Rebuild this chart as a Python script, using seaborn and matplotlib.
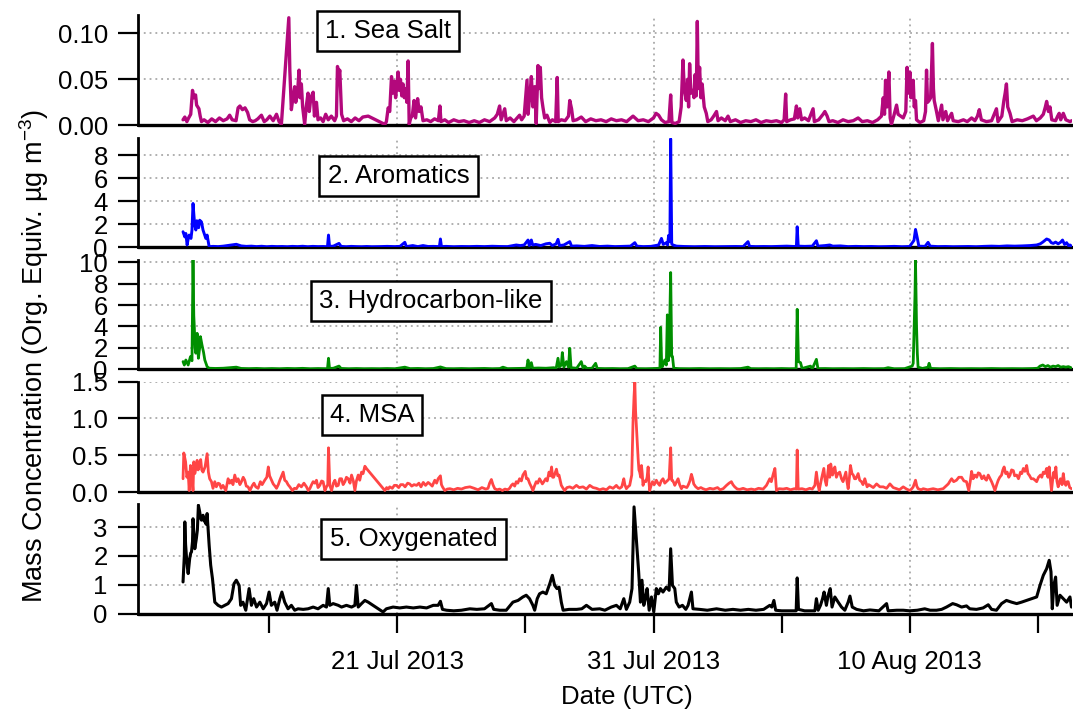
import numpy as np
import pandas as pd
import matplotlib
matplotlib.use("Agg")
import matplotlib.pyplot as plt
from matplotlib.ticker import FixedLocator, FixedFormatter
import matplotlib.dates as mdates
import seaborn as sns

# ---------------- data (time = day of July 2013, fractional; Aug d -> 31 + d) ----------------
sea_salt = [
    (12.63, .006), (12.70, .009), (12.78, .004), (12.85, .008), (12.93, .012), (13.00, .038), (13.05, .030),
    (13.12, .033), (13.16, .022), (13.25, .018), (13.30, .010), (13.35, .004), (13.45, .006), (13.60, .003),
    (13.75, .007), (13.90, .004), (14.05, .008), (14.20, .005), (14.35, .007), (14.45, .011), (14.55, .006),
    (14.70, .005), (14.78, .019), (14.85, .021), (14.95, .017), (15.05, .019), (15.15, .014), (15.23, .006),
    (15.35, .004), (15.45, .005), (15.55, .007), (15.69, .011), (15.80, .004), (15.90, .006), (16.02, .010),
    (16.15, .005), (16.28, .012), (16.38, .004), (16.47, .001), (16.76, .117), (16.80, .060), (16.86, .017),
    (16.92, .030), (16.99, .042), (17.03, .025), (17.10, .035), (17.16, .060), (17.20, .030), (17.25, .045),
    (17.30, .020), (17.38, .001), (17.44, .020), (17.51, .035), (17.56, .015), (17.62, .030), (17.71, .036),
    (17.76, .010), (17.84, .025), (17.90, .006), (18.00, .008), (18.10, .004), (18.20, .012), (18.30, .006),
    (18.42, .010), (18.55, .005), (18.62, .010), (18.66, .064), (18.72, .055), (18.75, .060), (18.82, .012),
    (18.90, .005), (19.05, .007), (19.20, .004), (19.35, .008), (19.50, .005), (19.65, .009), (19.86, .010),
    (20.51, .001), (20.57, .004), (20.64, .019), (20.70, .015), (20.77, .053), (20.82, .035), (20.88, .048),
    (20.93, .030), (21.03, .058), (21.07, .038), (21.12, .050), (21.17, .032), (21.22, .045), (21.27, .030),
    (21.32, .040), (21.37, .025), (21.42, .070), (21.46, .001), (21.52, .008), (21.58, .010), (21.65, .027),
    (21.71, .008), (21.79, .029), (21.85, .015), (21.92, .020), (22.00, .005), (22.15, .006), (22.30, .004),
    (22.45, .007), (22.60, .005), (22.66, .021), (22.70, .004), (22.85, .006), (23.00, .003), (23.20, .006),
    (23.40, .004), (23.60, .005), (23.80, .003),
    (24.00, .005), (24.20, .003), (24.40, .006), (24.60, .004), (24.80, .008), (24.90, .012), (24.99, .021),
    (25.05, .006), (25.19, .018), (25.25, .005), (25.40, .008), (25.55, .004), (25.77, .011), (25.85, .006),
    (25.95, .010), (26.06, .049), (26.10, .012), (26.18, .035), (26.23, .053), (26.29, .020), (26.36, .042),
    (26.42, .002), (26.49, .065), (26.53, .040), (26.58, .063), (26.63, .030), (26.68, .020), (26.75, .008),
    (26.84, .011), (26.95, .003), (27.05, .006), (27.18, .004), (27.24, .052), (27.28, .004), (27.40, .006),
    (27.55, .005), (27.68, .010), (27.73, .027), (27.80, .018), (27.86, .005), (28.00, .006), (28.18, .009),
    (28.35, .004), (28.55, .007), (28.75, .005), (28.95, .006), (29.15, .004), (29.35, .007), (29.55, .005),
    (29.75, .006), (29.95, .004), (30.20, .010), (30.40, .005), (30.60, .006), (30.80, .004), (31.00, .008),
    (31.10, .013), (31.20, .011), (31.31, .006), (31.45, .003), (31.60, .004), (31.67, .033), (31.72, .003),
    (31.85, .002), (32.00, .004), (32.08, .020), (32.15, .071), (32.20, .040), (32.28, .027), (32.33, .050),
    (32.37, .020), (32.41, .067), (32.46, .035), (32.54, .038), (32.58, .030), (32.62, .055), (32.67, .032),
    (32.71, .113), (32.75, .040), (32.80, .063), (32.85, .030), (32.90, .045), (32.93, .035), (32.98, .020),
    (33.06, .013), (33.12, .004), (33.25, .006), (33.35, .010), (33.46, .015), (33.52, .005), (33.65, .008),
    (33.80, .005), (33.91, .010), (34.00, .004), (34.20, .006), (34.40, .003), (34.60, .005), (34.80, .004),
    (35.00, .006), (35.20, .003), (35.40, .005),
    (35.60, .004), (35.80, .005), (36.00, .003), (36.10, .006), (36.16, .034), (36.20, .004), (36.35, .006),
    (36.50, .007), (36.58, .021), (36.63, .008), (36.71, .018), (36.78, .006), (36.90, .008), (37.05, .005),
    (37.23, .018), (37.28, .004), (37.45, .006), (37.62, .012), (37.69, .015), (37.78, .010), (37.85, .004),
    (38.00, .005), (38.20, .003), (38.40, .006), (38.60, .004), (38.80, .005), (38.99, .008), (39.15, .004),
    (39.35, .005), (39.55, .003), (39.75, .006), (39.90, .010), (39.97, .030), (40.02, .012), (40.06, .049),
    (40.12, .020), (40.19, .058), (40.24, .008), (40.29, .001), (40.38, .010), (40.49, .022), (40.55, .012),
    (40.65, .010), (40.75, .008), (40.85, .015), (40.90, .063), (40.95, .035), (41.01, .058), (41.05, .030),
    (41.10, .045), (41.14, .049), (41.18, .020), (41.23, .027), (41.27, .006), (41.40, .003), (41.55, .005),
    (41.62, .015), (41.66, .060), (41.70, .025), (41.76, .027), (41.82, .030), (41.89, .089), (41.93, .040),
    (41.96, .027), (42.05, .015), (42.12, .005), (42.25, .022), (42.30, .006), (42.41, .015), (42.48, .005),
    (42.64, .013), (42.70, .005), (42.90, .004), (43.10, .006), (43.25, .004), (43.42, .008), (43.55, .005),
    (43.65, .010), (43.72, .017), (43.80, .006), (44.00, .004), (44.20, .005), (44.39, .018), (44.45, .004),
    (44.60, .010), (44.68, .027), (44.73, .035), (44.78, .045), (44.83, .020), (44.92, .013), (45.00, .004),
    (45.20, .006), (45.40, .005), (45.60, .007), (45.83, .010), (45.95, .005), (46.10, .008), (46.22, .012),
    (46.30, .020), (46.35, .026), (46.42, .015), (46.48, .020), (46.55, .006), (46.70, .005), (46.78, .010),
    (46.84, .013), (46.90, .006), (47.00, .013), (47.10, .006), (47.26, .004), (47.33, .005),
]

aromatics = [
    (12.63, 1.35), (12.70, 0.90), (12.74, 1.20), (12.79, 0.20), (12.83, 0.70), (12.87, 1.06), (12.94, 0.77),
    (12.98, 1.50), (13.02, 3.80), (13.07, 2.35), (13.10, 1.80), (13.13, 1.50), (13.17, 2.30), (13.20, 2.06),
    (13.24, 1.70), (13.28, 2.35), (13.35, 2.20), (13.41, 1.50), (13.47, 1.10), (13.52, 0.77), (13.57, 1.06),
    (13.65, 0.05), (13.80, 0.08), (14.00, 0.06), (14.20, 0.10), (14.45, 0.18), (14.71, 0.26), (14.90, 0.12),
    (15.10, 0.08), (15.30, 0.10), (15.50, 0.06), (15.70, 0.09), (15.90, 0.05), (16.10, 0.08), (16.30, 0.06),
    (16.50, 0.07), (16.70, 0.05), (16.90, 0.08), (17.10, 0.06), (17.30, 0.09), (17.50, 0.05), (17.70, 0.08),
    (17.90, 0.06), (18.10, 0.07), (18.27, 0.05), (18.31, 1.06), (18.35, 0.08), (18.50, 0.10), (18.72, 0.34),
    (18.80, 0.08), (19.00, 0.05), (19.20, 0.08), (19.40, 0.06), (19.60, 0.05), (19.80, 0.07), (20.00, 0.05),
    (20.30, 0.06), (20.60, 0.08), (20.90, 0.06), (21.10, 0.08), (21.29, 0.43), (21.35, 0.06), (21.60, 0.15),
    (21.80, 0.06), (22.00, 0.15), (22.20, 0.07), (22.40, 0.08), (22.64, 0.06), (22.68, 0.72), (22.72, 0.06),
    (22.90, 0.08), (23.20, 0.05), (23.50, 0.07), (23.80, 0.06),
    (24.10, 0.08), (24.40, 0.06), (24.70, 0.09), (25.00, 0.07), (25.30, 0.06), (25.64, 0.20), (25.80, 0.15),
    (25.95, 0.20), (26.10, 0.63), (26.15, 0.15), (26.23, 0.63), (26.28, 0.20), (26.40, 0.25), (26.60, 0.15),
    (26.80, 0.30), (26.95, 0.35), (27.05, 0.15), (27.20, 0.30), (27.27, 0.69), (27.33, 0.15), (27.50, 0.20),
    (27.73, 0.49), (27.80, 0.10), (28.00, 0.12), (28.30, 0.08), (28.60, 0.15), (28.90, 0.07), (29.20, 0.10),
    (29.50, 0.06), (29.80, 0.08), (30.10, 0.10), (30.27, 0.40), (30.35, 0.10), (30.60, 0.06), (30.90, 0.08),
    (31.20, 0.20), (31.31, 0.77), (31.38, 0.25), (31.50, 0.40), (31.55, 0.20), (31.59, 1.03), (31.64, 0.50),
    (31.67, 9.40), (31.71, 0.30), (31.76, 0.20), (31.90, 0.10), (32.20, 0.07), (32.60, 0.05), (33.00, 0.07),
    (33.40, 0.05), (33.80, 0.06), (34.20, 0.07), (34.50, 0.06), (34.69, 0.49), (34.75, 0.08), (35.00, 0.06),
    (35.30, 0.07),
    (35.60, 0.06), (35.90, 0.08), (36.20, 0.10), (36.50, 0.07), (36.58, 0.10), (36.61, 1.78), (36.65, 0.10),
    (36.90, 0.08), (37.20, 0.10), (37.36, 0.57), (37.42, 0.10), (37.70, 0.15), (37.88, 0.20), (38.00, 0.10),
    (38.30, 0.12), (38.60, 0.06), (38.90, 0.08), (39.20, 0.06), (39.50, 0.07), (39.80, 0.05), (40.10, 0.06),
    (40.40, 0.08), (40.70, 0.05), (41.00, 0.07), (41.17, 0.60), (41.23, 1.55), (41.30, 0.80), (41.36, 0.10),
    (41.60, 0.08), (41.72, 0.43), (41.80, 0.10), (42.10, 0.06), (42.40, 0.07), (42.70, 0.05), (43.00, 0.06),
    (43.30, 0.07), (43.60, 0.05), (43.90, 0.08), (44.20, 0.10), (44.50, 0.08), (44.80, 0.12), (45.10, 0.10),
    (45.40, 0.12), (45.70, 0.15), (45.96, 0.20), (46.10, 0.30), (46.20, 0.45), (46.35, 0.72), (46.45, 0.63),
    (46.53, 0.40), (46.61, 0.34), (46.70, 0.45), (46.80, 0.30), (46.90, 0.45), (46.97, 0.63), (47.05, 0.25),
    (47.13, 0.40), (47.20, 0.15), (47.26, 0.20), (47.32, 0.10),
]

hydrocarbon = [
    (12.63, 0.72), (12.68, 0.40), (12.74, 0.87), (12.83, 0.40), (12.92, 1.18), (12.98, 0.80), (13.02, 10.2),
    (13.05, 5.0), (13.07, 4.0), (13.10, 2.0), (13.13, 1.5), (13.18, 3.36), (13.23, 1.03), (13.28, 2.0),
    (13.31, 3.05), (13.37, 2.27), (13.43, 1.6), (13.48, 0.87), (13.57, 0.25), (13.65, 0.10), (13.90, 0.08),
    (14.20, 0.10), (14.45, 0.15), (14.71, 0.20), (14.90, 0.08), (15.20, 0.06), (15.50, 0.08), (15.80, 0.05),
    (16.10, 0.07), (16.40, 0.05), (16.70, 0.08), (17.00, 0.06), (17.30, 0.09), (17.60, 0.05), (17.90, 0.07),
    (18.27, 0.05), (18.31, 1.03), (18.35, 0.08), (18.50, 0.10), (18.72, 0.30), (18.80, 0.08), (19.10, 0.05),
    (19.40, 0.07), (19.70, 0.05), (20.00, 0.06), (20.30, 0.05), (20.60, 0.07), (20.90, 0.05), (21.29, 0.20),
    (21.50, 0.06), (21.80, 0.08), (22.10, 0.05), (22.40, 0.07), (22.68, 0.22), (22.90, 0.06), (23.20, 0.05),
    (23.50, 0.07), (23.80, 0.05),
    (24.10, 0.06), (24.40, 0.08), (24.70, 0.05), (25.00, 0.07), (25.12, 0.20), (25.30, 0.06), (25.60, 0.08),
    (25.90, 0.10), (26.05, 0.10), (26.10, 0.87), (26.15, 0.10), (26.23, 0.62), (26.28, 0.10), (26.50, 0.12),
    (26.80, 0.10), (27.10, 0.15), (27.20, 0.10), (27.27, 1.03), (27.32, 0.20), (27.40, 0.40), (27.44, 1.56),
    (27.50, 0.20), (27.60, 0.72), (27.68, 0.20), (27.73, 1.96), (27.78, 0.15), (28.00, 0.10), (28.18, 0.72),
    (28.25, 0.10), (28.31, 0.30), (28.40, 0.08), (28.60, 0.10), (28.74, 0.56), (28.80, 0.08), (29.10, 0.06),
    (29.40, 0.07), (29.70, 0.05), (30.00, 0.06), (30.27, 0.30), (30.35, 0.06), (30.70, 0.05), (31.00, 0.07),
    (31.25, 0.10), (31.28, 3.92), (31.32, 0.30), (31.35, 0.25), (31.44, 0.87), (31.50, 0.40), (31.54, 5.08),
    (31.58, 0.80), (31.61, 1.50), (31.67, 9.03), (31.71, 1.20), (31.74, 1.20), (31.79, 0.10), (32.00, 0.06),
    (32.40, 0.05), (32.80, 0.07), (33.20, 0.05), (33.60, 0.06), (34.00, 0.05), (34.40, 0.07), (34.69, 0.20),
    (34.80, 0.06), (35.10, 0.05), (35.40, 0.06),
    (35.70, 0.05), (36.00, 0.07), (36.30, 0.05), (36.57, 0.06), (36.61, 5.60), (36.66, 0.72), (36.74, 0.62),
    (36.80, 0.08), (37.13, 0.30), (37.20, 0.05), (37.36, 0.93), (37.42, 0.06), (37.70, 0.07), (38.00, 0.05),
    (38.40, 0.06), (38.80, 0.05), (39.20, 0.07), (39.60, 0.05), (40.00, 0.06), (40.16, 0.15), (40.40, 0.05),
    (40.80, 0.06), (41.10, 0.30), (41.14, 0.56), (41.18, 4.45), (41.21, 7.0), (41.23, 10.15), (41.27, 4.0),
    (41.30, 1.5), (41.33, 0.20), (41.50, 0.08), (41.72, 0.20), (41.76, 0.56), (41.82, 0.08), (42.20, 0.05),
    (42.60, 0.07), (43.00, 0.05), (43.40, 0.06), (43.80, 0.05), (44.20, 0.07), (44.60, 0.05), (45.00, 0.06),
    (45.40, 0.05), (45.80, 0.07), (46.00, 0.10), (46.09, 0.30), (46.20, 0.40), (46.30, 0.25), (46.40, 0.35),
    (46.50, 0.20), (46.60, 0.30), (46.70, 0.25), (46.80, 0.35), (46.90, 0.20), (47.00, 0.25), (47.10, 0.20),
    (47.20, 0.25), (47.30, 0.15),
]

msa = [
    (12.63, 0.18), (12.66, 0.53), (12.73, 0.41), (12.78, 0.20), (12.83, 0.27), (12.87, 0.02), (12.92, 0.36),
    (12.97, 0.23), (13.02, 0.02), (13.05, 0.41), (13.09, 0.25), (13.13, 0.32), (13.18, 0.43), (13.22, 0.30),
    (13.26, 0.36), (13.32, 0.44), (13.36, 0.30), (13.41, 0.27), (13.49, 0.34), (13.57, 0.52), (13.62, 0.27),
    (13.67, 0.18), (13.74, 0.14), (13.80, 0.05), (13.87, 0.14), (13.93, 0.07), (14.00, 0.12), (14.06, 0.11),
    (14.12, 0.05), (14.19, 0.09), (14.30, 0.02), (14.39, 0.18), (14.45, 0.12), (14.52, 0.16), (14.58, 0.10),
    (14.65, 0.23), (14.72, 0.14), (14.78, 0.18), (14.85, 0.10), (14.91, 0.14), (14.98, 0.20), (15.04, 0.16),
    (15.10, 0.08), (15.17, 0.07), (15.24, 0.02), (15.34, 0.09), (15.40, 0.12), (15.47, 0.07), (15.56, 0.05),
    (15.65, 0.14), (15.72, 0.10), (15.82, 0.16), (15.90, 0.20), (15.96, 0.34), (16.01, 0.22), (16.06, 0.18),
    (16.15, 0.11), (16.22, 0.08), (16.28, 0.05), (16.35, 0.10), (16.41, 0.16), (16.48, 0.22), (16.54, 0.27),
    (16.60, 0.16), (16.67, 0.14), (16.73, 0.10), (16.80, 0.07), (16.90, 0.02), (16.98, 0.05), (17.06, 0.045),
    (17.15, 0.10), (17.25, 0.07), (17.35, 0.12), (17.45, 0.07), (17.52, 0.02), (17.58, 0.045), (17.65, 0.10),
    (17.71, 0.14), (17.78, 0.12), (17.84, 0.16), (17.90, 0.06), (17.97, 0.09), (18.04, 0.15), (18.10, 0.14),
    (18.17, 0.02), (18.23, 0.07), (18.28, 0.10), (18.31, 0.60), (18.36, 0.09), (18.43, 0.02), (18.50, 0.12),
    (18.56, 0.16), (18.62, 0.08), (18.69, 0.09), (18.75, 0.18), (18.82, 0.18), (18.88, 0.10), (18.95, 0.14),
    (19.01, 0.20), (19.08, 0.18), (19.15, 0.12), (19.21, 0.23), (19.28, 0.15), (19.34, 0.02), (19.40, 0.15),
    (19.47, 0.23), (19.53, 0.16), (19.60, 0.27), (19.66, 0.25), (19.73, 0.35), (19.79, 0.32), (20.51, 0.02),
    (20.58, 0.06), (20.64, 0.04), (20.70, 0.07), (20.80, 0.05), (20.88, 0.09), (20.96, 0.09), (21.05, 0.06),
    (21.13, 0.10), (21.22, 0.10), (21.30, 0.07), (21.40, 0.12), (21.48, 0.11), (21.56, 0.08), (21.65, 0.10),
    (21.75, 0.09), (21.84, 0.12), (21.92, 0.07), (22.01, 0.13), (22.10, 0.09), (22.20, 0.13), (22.27, 0.11),
    (22.36, 0.08), (22.46, 0.16), (22.53, 0.12), (22.59, 0.18), (22.68, 0.22), (22.72, 0.10), (22.76, 0.07),
    (22.85, 0.02), (22.95, 0.04), (23.05, 0.045), (23.20, 0.03), (23.35, 0.05), (23.50, 0.04), (23.65, 0.06),
    (23.83, 0.07),
    (24.00, 0.05), (24.15, 0.03), (24.30, 0.06), (24.45, 0.04), (24.54, 0.05), (24.60, 0.12), (24.67, 0.17),
    (24.73, 0.10), (24.80, 0.045), (24.90, 0.03), (24.99, 0.04), (25.10, 0.02), (25.20, 0.04), (25.30, 0.03),
    (25.38, 0.05), (25.45, 0.09), (25.51, 0.11), (25.58, 0.08), (25.64, 0.14), (25.70, 0.12), (25.77, 0.18),
    (25.84, 0.15), (25.90, 0.23), (25.99, 0.28), (26.04, 0.18), (26.10, 0.18), (26.16, 0.12), (26.23, 0.07),
    (26.29, 0.02), (26.35, 0.08), (26.42, 0.14), (26.48, 0.12), (26.55, 0.18), (26.60, 0.15), (26.66, 0.11),
    (26.72, 0.14), (26.79, 0.18), (26.85, 0.15), (26.92, 0.27), (26.97, 0.22), (27.02, 0.34), (27.06, 0.20),
    (27.10, 0.20), (27.15, 0.25), (27.21, 0.31), (27.26, 0.22), (27.31, 0.23), (27.36, 0.15), (27.40, 0.09),
    (27.47, 0.05), (27.53, 0.02), (27.62, 0.06), (27.73, 0.07), (27.85, 0.05), (27.99, 0.09), (28.10, 0.06),
    (28.25, 0.07), (28.38, 0.04), (28.51, 0.09), (28.64, 0.06), (28.77, 0.05), (28.90, 0.03), (29.03, 0.045),
    (29.16, 0.03), (29.29, 0.07), (29.42, 0.05), (29.55, 0.09), (29.62, 0.06), (29.68, 0.05), (29.76, 0.07),
    (29.84, 0.18), (29.88, 0.10), (29.94, 0.045), (30.00, 0.07), (30.07, 0.09), (30.15, 0.23), (30.20, 0.95),
    (30.24, 1.30), (30.27, 1.49), (30.30, 1.10), (30.33, 0.90), (30.36, 0.70), (30.40, 0.45), (30.43, 0.30),
    (30.46, 0.27), (30.50, 0.20), (30.53, 0.36), (30.56, 0.25), (30.59, 0.09), (30.64, 0.15), (30.70, 0.14),
    (30.75, 0.20), (30.79, 0.34), (30.82, 0.15), (30.85, 0.02), (30.90, 0.08), (30.96, 0.14), (31.03, 0.10),
    (31.11, 0.16), (31.17, 0.12), (31.24, 0.09), (31.30, 0.15), (31.37, 0.18), (31.44, 0.12), (31.50, 0.14),
    (31.56, 0.16), (31.61, 0.18), (31.67, 0.60), (31.71, 0.16), (31.74, 0.16), (31.80, 0.12), (31.83, 0.09),
    (31.90, 0.14), (31.96, 0.18), (32.02, 0.10), (32.09, 0.045), (32.15, 0.08), (32.22, 0.07), (32.30, 0.06),
    (32.35, 0.09), (32.42, 0.15), (32.48, 0.24), (32.53, 0.18), (32.57, 0.11), (32.65, 0.07), (32.74, 0.045),
    (32.85, 0.06), (32.93, 0.045), (33.05, 0.03), (33.20, 0.05), (33.33, 0.04), (33.50, 0.06), (33.60, 0.03),
    (33.72, 0.045), (33.85, 0.09), (33.95, 0.12), (34.04, 0.14), (34.10, 0.10), (34.17, 0.07), (34.27, 0.04),
    (34.37, 0.036), (34.50, 0.05), (34.65, 0.03), (34.82, 0.04), (34.95, 0.03), (35.10, 0.05), (35.28, 0.04),
    (35.41, 0.09), (35.54, 0.18),
    (35.60, 0.14), (35.68, 0.25), (35.74, 0.32), (35.80, 0.02), (35.90, 0.045), (36.06, 0.04), (36.20, 0.05),
    (36.35, 0.03), (36.50, 0.045), (36.58, 0.04), (36.61, 0.57), (36.65, 0.04), (36.80, 0.045), (36.95, 0.03),
    (37.10, 0.05), (37.20, 0.04), (37.30, 0.09), (37.36, 0.27), (37.42, 0.10), (37.47, 0.02), (37.56, 0.18),
    (37.65, 0.32), (37.70, 0.16), (37.75, 0.09), (37.84, 0.36), (37.88, 0.20), (37.92, 0.38), (37.99, 0.23),
    (38.04, 0.30), (38.08, 0.34), (38.14, 0.20), (38.20, 0.25), (38.27, 0.27), (38.34, 0.18), (38.40, 0.14),
    (38.45, 0.20), (38.51, 0.27), (38.55, 0.15), (38.60, 0.045), (38.65, 0.20), (38.69, 0.36), (38.75, 0.25),
    (38.80, 0.23), (38.85, 0.18), (38.90, 0.18), (38.99, 0.25), (39.05, 0.16), (39.12, 0.14), (39.18, 0.10),
    (39.25, 0.18), (39.30, 0.12), (39.34, 0.07), (39.40, 0.10), (39.45, 0.09), (39.58, 0.06), (39.71, 0.11),
    (39.84, 0.07), (39.97, 0.07), (40.10, 0.05), (40.23, 0.11), (40.36, 0.06), (40.49, 0.045), (40.60, 0.03),
    (40.75, 0.07), (40.88, 0.04), (41.01, 0.02), (41.10, 0.05), (41.14, 0.07), (41.23, 0.16), (41.28, 0.08),
    (41.33, 0.045), (41.45, 0.03), (41.53, 0.045), (41.70, 0.03), (41.92, 0.045), (42.10, 0.03), (42.31, 0.045),
    (42.42, 0.08), (42.51, 0.11), (42.58, 0.15), (42.64, 0.18), (42.72, 0.14), (42.83, 0.16), (42.92, 0.20),
    (43.03, 0.20), (43.12, 0.15), (43.22, 0.14), (43.31, 0.02), (43.37, 0.15), (43.42, 0.28), (43.48, 0.18),
    (43.55, 0.23), (43.62, 0.20), (43.68, 0.26), (43.74, 0.25), (43.82, 0.18), (43.90, 0.22), (43.94, 0.18),
    (44.00, 0.16), (44.07, 0.23), (44.14, 0.18), (44.20, 0.14), (44.27, 0.08), (44.33, 0.02), (44.40, 0.10),
    (44.46, 0.16), (44.52, 0.20), (44.59, 0.23), (44.64, 0.30), (44.69, 0.34), (44.75, 0.25), (44.81, 0.27),
    (44.87, 0.20), (44.92, 0.23), (44.98, 0.30), (45.05, 0.29), (45.10, 0.22), (45.18, 0.23), (45.25, 0.18),
    (45.33, 0.27), (45.38, 0.25), (45.44, 0.32), (45.50, 0.28), (45.57, 0.36), (45.62, 0.25), (45.67, 0.23),
    (45.75, 0.18), (45.83, 0.18), (45.90, 0.16), (45.96, 0.14), (46.03, 0.20), (46.11, 0.23), (46.16, 0.20),
    (46.22, 0.27), (46.28, 0.25), (46.35, 0.32), (46.40, 0.20), (46.45, 0.34), (46.50, 0.15), (46.54, 0.02),
    (46.58, 0.15), (46.63, 0.27), (46.67, 0.20), (46.71, 0.34), (46.75, 0.15), (46.80, 0.07), (46.85, 0.14),
    (46.89, 0.18), (46.95, 0.10), (47.00, 0.25), (47.05, 0.12), (47.10, 0.09), (47.15, 0.14), (47.19, 0.14),
    (47.25, 0.06), (47.32, 0.045),
]

oxygenated = [
    (12.63, 1.10), (12.68, 2.00), (12.70, 3.18), (12.73, 2.40), (12.76, 2.02), (12.80, 1.60), (12.83, 1.39),
    (12.89, 1.91), (12.93, 2.10), (12.96, 2.14), (13.00, 2.50), (13.02, 3.29), (13.06, 2.60), (13.09, 2.25),
    (13.15, 2.60), (13.19, 2.90), (13.23, 3.76), (13.28, 3.53), (13.32, 3.30), (13.35, 3.24), (13.41, 3.41),
    (13.46, 3.20), (13.49, 3.24), (13.53, 3.10), (13.57, 3.47), (13.65, 2.37), (13.71, 1.68), (13.78, 1.21),
    (13.87, 0.40), (14.00, 0.29), (14.13, 0.23), (14.26, 0.29), (14.39, 0.35), (14.52, 0.52), (14.62, 1.04),
    (14.71, 1.16), (14.82, 0.98), (14.88, 0.29), (14.97, 0.40), (15.08, 0.12), (15.21, 0.87), (15.30, 0.29),
    (15.39, 0.52), (15.50, 0.23), (15.63, 0.40), (15.76, 0.17), (15.89, 0.35), (15.99, 0.75), (16.08, 0.29),
    (16.21, 0.40), (16.30, 0.12), (16.41, 0.52), (16.49, 0.75), (16.60, 0.40), (16.73, 0.17), (16.86, 0.29),
    (16.99, 0.12), (17.12, 0.17), (17.32, 0.15), (17.51, 0.17), (17.71, 0.23), (17.90, 0.17), (18.10, 0.29),
    (18.23, 0.23), (18.30, 0.87), (18.36, 0.29), (18.49, 0.35), (18.69, 0.29), (18.82, 0.23), (19.01, 0.29),
    (19.21, 0.23), (19.34, 0.29), (19.40, 0.98), (19.47, 0.23), (19.60, 0.35), (19.73, 0.46), (19.86, 0.40),
    (20.44, 0.06), (20.57, 0.17), (20.83, 0.23), (21.09, 0.20), (21.35, 0.23), (21.62, 0.20), (21.88, 0.23),
    (22.14, 0.20), (22.40, 0.29), (22.59, 0.29), (22.68, 0.43), (22.76, 0.15), (22.92, 0.12), (23.20, 0.10),
    (23.50, 0.12), (23.83, 0.17),
    (24.10, 0.15), (24.40, 0.17), (24.67, 0.35), (24.76, 0.15), (25.00, 0.12), (25.25, 0.12), (25.51, 0.40),
    (25.71, 0.46), (25.90, 0.58), (26.03, 0.64), (26.16, 0.52), (26.29, 0.29), (26.36, 0.12), (26.46, 0.52),
    (26.55, 0.69), (26.68, 0.75), (26.81, 0.69), (26.95, 1.04), (27.05, 1.33), (27.14, 0.98), (27.23, 0.87),
    (27.31, 0.92), (27.40, 0.40), (27.47, 0.12), (27.70, 0.15), (28.00, 0.15), (28.20, 0.17), (28.38, 0.29),
    (28.60, 0.15), (28.90, 0.17), (29.10, 0.12), (29.35, 0.23), (29.55, 0.29), (29.70, 0.17), (29.84, 0.52),
    (29.94, 0.15), (30.07, 0.40), (30.16, 0.87), (30.24, 3.70), (30.29, 3.06), (30.36, 2.14), (30.42, 1.45),
    (30.49, 0.40), (30.55, 1.16), (30.62, 0.29), (30.68, 0.52), (30.75, 0.87), (30.83, 0.12), (30.92, 0.58),
    (31.01, 0.06), (31.11, 0.87), (31.19, 0.69), (31.27, 0.87), (31.37, 0.75), (31.50, 0.92), (31.61, 0.81),
    (31.67, 2.25), (31.74, 0.98), (31.83, 0.87), (31.89, 0.40), (32.00, 0.23), (32.13, 0.29), (32.26, 0.15),
    (32.35, 0.29), (32.48, 0.75), (32.54, 0.17), (32.80, 0.15), (33.10, 0.12), (33.46, 0.17), (33.80, 0.12),
    (34.10, 0.15), (34.40, 0.12), (34.70, 0.15), (35.00, 0.12), (35.30, 0.15), (35.54, 0.29),
    (35.62, 0.23), (35.70, 0.46), (35.77, 0.12), (36.00, 0.10), (36.30, 0.10), (36.57, 0.10), (36.61, 1.24),
    (36.66, 0.15), (36.90, 0.10), (37.10, 0.10), (37.30, 0.10), (37.36, 0.52), (37.43, 0.12), (37.52, 0.29),
    (37.60, 0.52), (37.66, 0.75), (37.75, 0.29), (37.82, 0.64), (37.90, 0.87), (37.97, 0.23), (38.08, 0.58),
    (38.21, 0.40), (38.34, 0.23), (38.47, 0.12), (38.60, 0.40), (38.67, 0.61), (38.76, 0.23), (38.93, 0.15),
    (39.20, 0.10), (39.45, 0.13), (39.80, 0.10), (40.10, 0.35), (40.16, 0.10), (40.50, 0.12), (40.75, 0.12),
    (41.00, 0.10), (41.30, 0.12), (41.59, 0.17), (41.80, 0.12), (42.05, 0.12), (42.25, 0.15), (42.44, 0.23),
    (42.68, 0.35), (42.83, 0.31), (43.03, 0.23), (43.22, 0.27), (43.35, 0.17), (43.61, 0.15), (43.87, 0.20),
    (44.07, 0.31), (44.20, 0.15), (44.39, 0.12), (44.59, 0.35), (44.78, 0.46), (44.98, 0.40), (45.18, 0.35),
    (45.37, 0.40), (45.57, 0.46), (45.76, 0.52), (45.96, 0.58), (46.09, 0.98), (46.22, 1.33), (46.35, 1.56),
    (46.45, 1.85), (46.52, 1.45), (46.57, 0.17), (46.63, 0.98), (46.70, 1.27), (46.76, 0.29), (46.87, 0.64),
    (47.00, 0.52), (47.13, 0.40), (47.26, 0.58), (47.32, 0.23),
]

series = [sea_salt, aromatics, hydrocarbon, msa, oxygenated]
panel_names = ["1. Sea Salt", "2. Aromatics", "3. Hydrocarbon-like", "4. MSA", "5. Oxygenated"]
panel_colors = ["#B3087C", "#0000FF", "#008F00", "#FF4545", "#000000"]
y_ticks = [[0, 0.05, 0.10], [0, 2, 4, 6, 8], [0, 2, 4, 6, 8, 10], [0, 0.5, 1.0, 1.5], [0, 1, 2, 3]]
y_ticklabels = [["0.00", "0.05", "0.10"], ["0", "2", "4", "6", "8"], ["0", "2", "4", "6", "8", "10"],
                ["0.0", "0.5", "1.0", "1.5"], ["0", "1", "2", "3"]]
y_max = [0.12, 9.45, 10.2, 1.5, 3.8]
major_dates = ["2013-07-21", "2013-07-31", "2013-08-10"]
major_labels = ["21 Jul 2013", "31 Jul 2013", "10 Aug 2013"]
minor_dates = ["2013-07-16", "2013-07-26", "2013-08-05", "2013-08-15"]
x_range = (10.86, 47.34)
y_label = "Mass Concentration (Org. Equiv. µg m$^{-3}$)"
x_label = "Date (UTC)"

# ---------------- style ----------------
sns.set_style("ticks")
plt.rcParams["font.family"] = ["Liberation Sans", "DejaVu Sans"]
plt.rcParams["mathtext.fontset"] = "custom"
plt.rcParams["mathtext.rm"] = "Liberation Sans"
plt.rcParams["mathtext.it"] = "Liberation Sans:italic"
plt.rcParams["mathtext.bf"] = "Liberation Sans:bold"
for key in ["text.color", "axes.labelcolor", "xtick.color", "ytick.color", "axes.edgecolor"]:
    plt.rcParams[key] = "black"

FS = 18.5
W, H = 1073, 717
BASE = pd.Timestamp("2013-07-01")


def to_dates(t):
    return BASE + pd.to_timedelta(np.asarray(t, dtype=float) - 1.0, unit="D")


fig = plt.figure(figsize=(W / 100, H / 100), dpi=100)

left_px, right_px = 137.7, 1072
tops = [15, 138.3, 260, 381.5, 504]
bottoms = [125.3, 247.3, 369.3, 492, 613.7]
box_centers = [(388, 31), (398.5, 176), (431, 301), (372, 415), (413.5, 539)]
line_widths = [2.4, 2.1, 2.0, 2.0, 2.2]

xlim = to_dates(list(x_range))
maj = mdates.date2num(pd.to_datetime(major_dates))
mnr = mdates.date2num(pd.to_datetime(minor_dates))
grid_kw = dict(color="#9a9a9a", linestyle=(0, (1.2, 2.6)), linewidth=1.1)

for i, data in enumerate(series):
    ax = fig.add_axes([left_px / W, 1 - bottoms[i] / H, (right_px - left_px) / W, (bottoms[i] - tops[i]) / H])
    t, v = zip(*data)
    df = pd.DataFrame({"date": to_dates(t), "value": v})
    sns.lineplot(data=df, x="date", y="value", ax=ax, color=panel_colors[i], linewidth=line_widths[i],
                 estimator=None, sort=False, zorder=3)
    ax.set_xlim(xlim[0], xlim[1])
    ax.set_ylim(0, y_max[i])
    ax.set_xlabel("")
    ax.set_ylabel("")

    ax.axhline(0, color="black", linewidth=2.4, zorder=2, clip_on=False)
    for s in ["top", "right", "bottom"]:
        ax.spines[s].set_visible(False)
    ax.spines["left"].set_linewidth(2.0)
    ax.spines["left"].set_color("black")

    ax.yaxis.set_major_locator(FixedLocator(y_ticks[i]))
    ax.yaxis.set_major_formatter(FixedFormatter(y_ticklabels[i]))
    ax.tick_params(axis="y", direction="out", length=14.5, width=1.6, labelsize=FS, pad=7,
                   color="black", labelcolor="black")

    ax.xaxis.set_major_locator(FixedLocator(maj))
    ax.xaxis.set_minor_locator(FixedLocator(mnr))
    for yv in y_ticks[i]:
        if yv > 0:
            ax.axhline(yv, zorder=0.5, **grid_kw)
    for xv in maj:
        ax.axvline(xv, zorder=0.5, **grid_kw)

    if i < len(series) - 1:
        ax.tick_params(axis="x", which="both", length=0, labelbottom=False)
    else:
        ax.xaxis.set_major_formatter(FixedFormatter(major_labels))
        ax.tick_params(axis="x", which="both", direction="out", length=14, width=1.6, labelsize=FS,
                       pad=12, color="black", labelcolor="black")
        ax.tick_params(axis="x", which="minor", labelbottom=False)

    cx, cy = box_centers[i]
    fig.text(cx / W, 1 - cy / H, panel_names[i], fontsize=FS, ha="center", va="center", zorder=10,
             color="black",
             bbox=dict(boxstyle="square,pad=0.32", facecolor="white", edgecolor="black", linewidth=1.8))

fig.text(34 / W, 1 - 356 / H, y_label, rotation=90, fontsize=19.5, ha="center", va="center", color="black")
fig.text(627 / W, 1 - 697 / H, x_label, fontsize=FS, ha="center", va="center", color="black")

fig.savefig("out.png", dpi=100)
